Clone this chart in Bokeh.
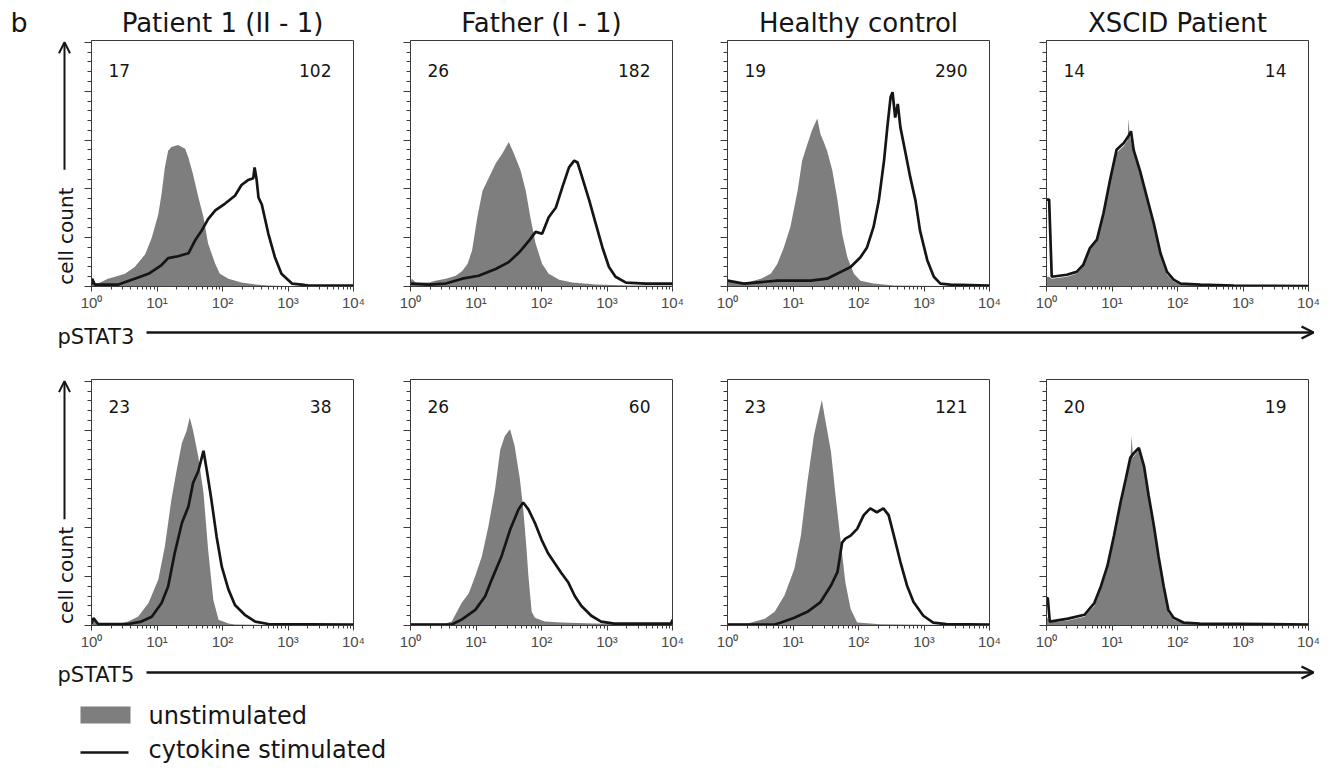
import math
from bokeh.plotting import figure
from bokeh.layouts import column, row
from bokeh.models import Range1d, FixedTicker, Label, Arrow, OpenHead, CustomLabelingPolicy
from bokeh.core.properties import value
from bokeh.embed import file_html
from bokeh.resources import INLINE

# ---------------- data ----------------
panel_titles = ["Patient 1 (II - 1)", "Father (I - 1)", "Healthy control", "XSCID Patient"]
markers = ["pSTAT3", "pSTAT5"]
pstat3_unstim_mfi = [17, 26, 19, 14]
pstat3_stim_mfi = [102, 182, 290, 14]
pstat5_unstim_mfi = [23, 26, 23, 20]
pstat5_stim_mfi = [38, 60, 121, 19]
decade_ticks = [1, 10, 100, 1000, 10000]
decade_labels = ["10\u2070", "10\u00b9", "10\u00b2", "10\u00b3", "10\u2074"]
count_ticks = [0, 50, 100, 150, 200, 250]
legend_labels = ["unstimulated", "cytokine stimulated"]
y_label = "cell count"
panel_letter = "b"

# histograms: log10 fluorescence intensity and cell count
# pSTAT3 - Patient 1
s3_pat_un_log = [0.0, 0.02, 0.05, 0.10, 0.25, 0.36, 0.51, 0.66, 0.82, 0.92, 1.02, 1.07, 1.12, 1.17, 1.22, 1.32, 1.43, 1.48, 1.55, 1.63, 1.71, 1.78, 1.89, 1.96, 2.09, 2.29, 2.50, 2.70, 2.96, 3.2, 4.0]
s3_pat_un_cnt = [3, 8, 3, 3, 8, 10, 13, 20, 33, 50, 74, 95, 122, 139, 143, 145, 141, 132, 115, 92, 71, 44, 23, 13, 8, 4, 2, 1, 0.5, 0, 0]
s3_pat_st_log = [0.0, 0.01, 0.05, 0.41, 0.66, 0.87, 1.07, 1.17, 1.32, 1.48, 1.58, 1.68, 1.78, 1.89, 2.04, 2.19, 2.29, 2.39, 2.47, 2.49, 2.52, 2.55, 2.60, 2.70, 2.80, 2.90, 3.06, 3.21, 3.31, 4.0]
s3_pat_st_cnt = [2, 8, 2, 2, 8, 13, 22, 29, 31, 34, 47, 57, 69, 78, 85, 93, 104, 109, 111, 122, 110, 91, 84, 54, 30, 13, 3, 2, 1, 1]
# pSTAT3 - Father
s3_fat_un_log = [0.0, 0.02, 0.08, 0.28, 0.38, 0.54, 0.69, 0.79, 0.87, 0.94, 1.02, 1.10, 1.20, 1.30, 1.40, 1.50, 1.58, 1.68, 1.76, 1.83, 1.91, 2.01, 2.11, 2.27, 2.47, 2.83, 3.34, 4.0]
s3_fat_un_cnt = [4, 8, 4, 4, 6, 8, 11, 16, 23, 37, 71, 98, 112, 126, 136, 148, 136, 119, 98, 71, 44, 23, 13, 7, 4, 2, 1, 1]
s3_fat_st_log = [0.0, 0.28, 0.54, 0.79, 1.04, 1.30, 1.50, 1.66, 1.81, 1.91, 2.01, 2.11, 2.22, 2.32, 2.42, 2.50, 2.55, 2.62, 2.73, 2.83, 2.93, 3.03, 3.13, 3.29, 3.59, 4.0]
s3_fat_st_cnt = [3, 2, 3, 8, 11, 18, 25, 35, 47, 56, 54, 71, 81, 102, 122, 129, 127, 112, 88, 64, 40, 20, 10, 4, 3, 3]
# pSTAT3 - Healthy control
s3_hea_un_log = [0.0, 0.30, 0.51, 0.66, 0.76, 0.86, 0.96, 1.07, 1.14, 1.22, 1.29, 1.37, 1.42, 1.47, 1.52, 1.60, 1.68, 1.75, 1.83, 1.93, 2.03, 2.23, 2.54, 4.0]
s3_hea_un_cnt = [5, 4, 8, 13, 23, 40, 61, 98, 129, 146, 160, 172, 156, 148, 139, 119, 88, 54, 30, 13, 6, 3, 1, 0]
s3_hea_st_log = [0.0, 0.25, 0.76, 1.02, 1.27, 1.52, 1.73, 1.88, 2.03, 2.13, 2.23, 2.31, 2.39, 2.44, 2.49, 2.52, 2.56, 2.60, 2.64, 2.72, 2.79, 2.87, 2.94, 3.05, 3.15, 3.25, 3.40, 4.0]
s3_hea_st_cnt = [6, 3, 6, 6, 6, 8, 15, 20, 30, 40, 61, 88, 129, 163, 194, 199, 173, 187, 163, 136, 112, 88, 57, 27, 10, 3, 2, 1]
# pSTAT3 - XSCID patient
s3_xsc_un_log = [0.0, 0.04, 0.08, 0.31, 0.46, 0.56, 0.66, 0.77, 0.87, 0.97, 1.07, 1.18, 1.24, 1.25, 1.27, 1.33, 1.43, 1.53, 1.64, 1.74, 1.84, 1.94, 2.05, 2.35, 4.0]
s3_xsc_un_cnt = [10, 10, 8, 10, 13, 20, 37, 46, 72, 106, 137, 144, 150, 172, 155, 137, 115, 89, 61, 31, 12, 5, 2, 1, 0]
s3_xsc_st_log = [0.0, 0.04, 0.08, 0.31, 0.46, 0.56, 0.66, 0.77, 0.87, 0.97, 1.07, 1.18, 1.25, 1.29, 1.33, 1.43, 1.53, 1.64, 1.74, 1.84, 1.94, 2.05, 2.35, 2.86, 4.0]
s3_xsc_st_cnt = [89, 89, 10, 12, 15, 22, 39, 48, 75, 109, 140, 147, 154, 159, 140, 118, 92, 64, 34, 15, 7, 3, 2, 1, 0.5]
# pSTAT5 - Patient 1
s5_pat_un_log = [0.0, 0.03, 0.10, 0.41, 0.56, 0.71, 0.87, 1.02, 1.12, 1.22, 1.30, 1.38, 1.45, 1.50, 1.55, 1.63, 1.71, 1.78, 1.86, 1.94, 2.09, 2.19, 4.0]
s5_pat_un_cnt = [2, 7.5, 1.5, 1.5, 4, 9, 23, 47, 81, 129, 159, 187, 199, 213, 200, 173, 136, 78, 26, 6, 2, 1, 0]
s5_pat_st_log = [0.0, 0.03, 0.10, 0.56, 0.76, 0.92, 1.07, 1.17, 1.27, 1.38, 1.48, 1.55, 1.63, 1.71, 1.76, 1.83, 1.91, 1.99, 2.09, 2.19, 2.34, 2.50, 2.70, 4.0]
s5_pat_st_cnt = [2, 7.5, 1.5, 1.5, 4, 9, 23, 40, 74, 105, 122, 146, 158, 179, 159, 129, 91, 60, 37, 21, 11, 4, 1.5, 1]
# pSTAT5 - Father
s5_fat_un_log = [0.0, 0.53, 0.63, 0.78, 0.89, 0.99, 1.09, 1.19, 1.29, 1.37, 1.44, 1.52, 1.59, 1.67, 1.72, 1.77, 1.80, 1.85, 1.90, 2.05, 2.30, 2.81, 4.0]
s5_fat_un_cnt = [2, 2, 4, 23, 33, 51, 71, 102, 139, 180, 194, 201, 184, 150, 120, 80, 51, 14, 8, 4, 3, 2, 1]
s5_fat_st_log = [0.0, 0.63, 0.78, 0.99, 1.14, 1.24, 1.39, 1.52, 1.65, 1.72, 1.80, 1.90, 2.00, 2.10, 2.20, 2.30, 2.41, 2.51, 2.61, 2.76, 2.91, 3.11, 3.98, 4.0]
s5_fat_st_cnt = [1, 1, 6, 16, 30, 47, 71, 98, 119, 126, 119, 105, 88, 74, 64, 54, 44, 30, 20, 10, 4, 2, 2, 6]
# pSTAT5 - Healthy control
s5_hea_un_log = [0.0, 0.31, 0.57, 0.72, 0.87, 1.02, 1.12, 1.22, 1.32, 1.40, 1.44, 1.50, 1.58, 1.65, 1.73, 1.80, 1.88, 1.98, 2.33, 4.0]
s5_hea_un_cnt = [2, 2, 7, 14, 31, 58, 92, 147, 195, 219, 231, 208, 178, 133, 85, 44, 17, 3, 1.4, 0]
s5_hea_st_log = [0.0, 0.72, 0.82, 1.02, 1.22, 1.42, 1.58, 1.68, 1.75, 1.80, 1.88, 1.98, 2.08, 2.18, 2.28, 2.38, 2.46, 2.54, 2.64, 2.74, 2.84, 2.99, 3.14, 3.34, 4.0]
s5_hea_st_cnt = [1, 1, 3, 8, 14, 24, 41, 55, 85, 89, 92, 99, 113, 120, 116, 120, 113, 92, 65, 41, 24, 10, 3, 1.4, 1]
# pSTAT5 - XSCID patient
s5_xsc_un_log = [0.0, 0.05, 0.33, 0.58, 0.73, 0.83, 0.93, 1.03, 1.13, 1.21, 1.28, 1.30, 1.32, 1.41, 1.49, 1.56, 1.64, 1.71, 1.79, 1.86, 1.94, 2.09, 2.34, 4.0]
s5_xsc_un_cnt = [10, 3, 5, 9, 20, 37, 58, 89, 123, 147, 170, 194, 172, 180, 160, 130, 99, 68, 37, 13, 6, 2, 1, 0]
s5_xsc_st_log = [0.0, 0.02, 0.05, 0.33, 0.58, 0.73, 0.83, 0.93, 1.03, 1.13, 1.21, 1.28, 1.34, 1.41, 1.49, 1.56, 1.64, 1.71, 1.79, 1.86, 1.94, 2.09, 2.34, 4.0]
s5_xsc_st_cnt = [28, 28, 4, 7, 11, 23, 40, 61, 92, 126, 150, 172, 177, 182, 163, 133, 102, 71, 40, 16, 8, 3, 2, 1]

unstim_series = [
    [(s3_pat_un_log, s3_pat_un_cnt), (s3_fat_un_log, s3_fat_un_cnt), (s3_hea_un_log, s3_hea_un_cnt), (s3_xsc_un_log, s3_xsc_un_cnt)],
    [(s5_pat_un_log, s5_pat_un_cnt), (s5_fat_un_log, s5_fat_un_cnt), (s5_hea_un_log, s5_hea_un_cnt), (s5_xsc_un_log, s5_xsc_un_cnt)],
]
stim_series = [
    [(s3_pat_st_log, s3_pat_st_cnt), (s3_fat_st_log, s3_fat_st_cnt), (s3_hea_st_log, s3_hea_st_cnt), (s3_xsc_st_log, s3_xsc_st_cnt)],
    [(s5_pat_st_log, s5_pat_st_cnt), (s5_fat_st_log, s5_fat_st_cnt), (s5_hea_st_log, s5_hea_st_cnt), (s5_xsc_st_log, s5_xsc_st_cnt)],
]
unstim_mfi = [pstat3_unstim_mfi, pstat5_unstim_mfi]
stim_mfi = [pstat3_stim_mfi, pstat5_stim_mfi]

# ---------------- styling / layout ----------------
FONT = "DejaVu Sans"
TICK_FONT = "Liberation Sans"
GRAY = "#7e7e7e"
INK = "#151515"
FRAME = "#3a3a3a"
FW, FH = 262, 246
LEFT_W = 80
BORDER_L = [11, 43, 41, 43]
BORDER_R = [14, 14, 14, 14]
BORDER_T = [2, 29]
BORDER_B = 28
NUM_Y = [FH - 30, FH - 27]
TOTAL_W = LEFT_W + sum(BORDER_L) + sum(BORDER_R) + 4 * FW
TITLE_H = 38
STRIP1_H = 36
STRIP2_H = 115

minor_log = [m * 10 ** e for e in range(4) for m in range(2, 10)]
minor_cnt = list(range(0, 260, 10))

hide_labels = CustomLabelingPolicy(code="""
    try { for (const i of Array.from(indices)) { indices.unset(i) } } catch (e) {}
    return indices
""")


def blank_figure(w, h):
    f = figure(width=w, height=h, x_range=Range1d(0, w), y_range=Range1d(0, h),
               min_border=0, toolbar_location=None, output_backend="svg",
               x_axis_location=None, y_axis_location=None,
               outline_line_color=None, background_fill_color="white", border_fill_color="white")
    f.xgrid.visible = False
    f.ygrid.visible = False
    return f


def make_panel(r, c):
    p = figure(frame_width=FW, frame_height=FH, x_axis_type="log",
               x_range=Range1d(1, 10000), y_range=Range1d(0, 252),
               min_border_left=BORDER_L[c], min_border_right=BORDER_R[c],
               min_border_top=BORDER_T[r], min_border_bottom=BORDER_B,
               toolbar_location=None, output_backend="svg",
               background_fill_color="white", border_fill_color="white",
               outline_line_color=FRAME, outline_line_width=1)
    p.xgrid.visible = False
    p.ygrid.visible = False

    ux, uy = unstim_series[r][c]
    sx, sy = stim_series[r][c]
    p.varea(x=[10 ** v for v in ux], y1=0, y2=uy, fill_color=GRAY)
    p.line(x=[10 ** v for v in sx], y=sy, line_color=INK, line_width=2.7)

    xa = p.xaxis[0]
    xa.ticker = FixedTicker(ticks=decade_ticks, minor_ticks=minor_log)
    xa.major_label_overrides = {t: l for t, l in zip(decade_ticks, decade_labels)}
    xa.major_label_text_font = TICK_FONT
    xa.major_label_text_font_size = "15px"
    xa.major_label_text_color = "#4a4a4a"
    xa.major_label_standoff = 2
    xa.major_tick_out = 5
    xa.major_tick_in = 0
    xa.minor_tick_out = 3
    xa.minor_tick_in = 0
    xa.axis_line_color = FRAME
    xa.major_tick_line_color = FRAME
    xa.minor_tick_line_color = FRAME

    ya = p.yaxis[0]
    ya.ticker = FixedTicker(ticks=count_ticks, minor_ticks=minor_cnt)
    ya.major_label_policy = hide_labels
    ya.major_label_text_font_size = "0px"
    ya.major_label_standoff = 0
    ya.major_tick_out = 7
    ya.major_tick_in = 0
    ya.minor_tick_out = 4
    ya.minor_tick_in = 0
    ya.axis_line_color = FRAME
    ya.major_tick_line_color = FRAME
    ya.minor_tick_line_color = FRAME

    p.add_layout(Label(x=17, y=NUM_Y[r], x_units="screen", y_units="screen",
                       text=str(unstim_mfi[r][c]), text_font=FONT, text_font_size="17px",
                       text_color=INK, text_align="left", text_baseline="alphabetic"))
    p.add_layout(Label(x=FW - 22, y=NUM_Y[r], x_units="screen", y_units="screen",
                       text=str(stim_mfi[r][c]), text_font=FONT, text_font_size="17px",
                       text_color=INK, text_align="right", text_baseline="alphabetic"))
    return p


def make_left(h):
    f = blank_figure(LEFT_W, h)
    f.add_layout(Arrow(x_start=64, y_start=131, x_end=64, y_end=h - 2,
                       line_color=INK, line_width=2,
                       end=OpenHead(size=11, line_width=2, line_color=INK)))
    f.text(x=[65], y=[2], text=[y_label], angle=math.pi / 2, text_font=value(FONT),
           text_font_size="20px", text_color=INK, text_align="left", text_baseline="middle")
    return f


def make_title_strip():
    f = blank_figure(TOTAL_W, TITLE_H)
    centers = []
    x0 = LEFT_W
    for c in range(4):
        centers.append(x0 + BORDER_L[c] + FW / 2)
        x0 += BORDER_L[c] + FW + BORDER_R[c]
    f.text(x=centers, y=[16] * 4, text=panel_titles, text_font=value(FONT), text_font_size="26px",
           text_color=INK, text_align="center", text_baseline="alphabetic")
    f.text(x=[10], y=[16], text=[panel_letter], text_font=value(FONT), text_font_size="27px",
           text_color=INK, text_align="left", text_baseline="alphabetic")
    return f


def make_strip(h, marker, baseline_y, line_y, with_legend):
    s = blank_figure(TOTAL_W, h)
    s.text(x=[57], y=[baseline_y], text=[marker], text_font=value(FONT), text_font_size="21px",
           text_color=INK, text_align="left", text_baseline="alphabetic")
    s.add_layout(Arrow(x_start=146, y_start=line_y, x_end=1313, y_end=line_y,
                       line_color=INK, line_width=2.4,
                       end=OpenHead(size=12, line_width=2.4, line_color=INK)))
    if with_legend:
        s.quad(left=[80], right=[130], bottom=[45], top=[62], fill_color=GRAY, line_color=None)
        s.text(x=[148], y=[53], text=[legend_labels[0]], text_font=value(FONT), text_font_size="24px",
               text_color=INK, text_align="left", text_baseline="alphabetic")
        s.line(x=[80, 128], y=[16, 16], line_color=INK, line_width=2.4)
        s.text(x=[148], y=[19], text=[legend_labels[1]], text_font=value(FONT), text_font_size="24px",
               text_color=INK, text_align="left", text_baseline="alphabetic")
    return s


row1_h = BORDER_T[0] + FH + BORDER_B
row2_h = BORDER_T[1] + FH + BORDER_B
title_strip = make_title_strip()
row1 = row([make_left(row1_h)] + [make_panel(0, c) for c in range(4)])
strip1 = make_strip(STRIP1_H, markers[0], 14, 18, False)
row2 = row([make_left(row2_h)] + [make_panel(1, c) for c in range(4)])
strip2 = make_strip(STRIP2_H, markers[1], 94, 96, True)

layout = column([title_strip, row1, strip1, row2, strip2])

with open("out.html", "w") as f:
    f.write(file_html(layout, INLINE))
